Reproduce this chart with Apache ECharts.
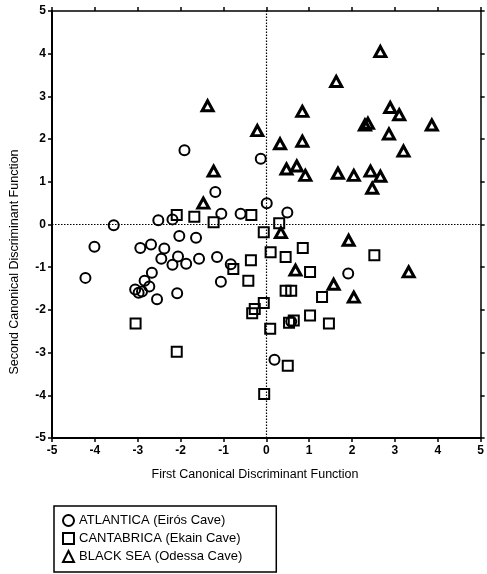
<!DOCTYPE html>
<html>
<head>
<meta charset="utf-8">
<script src="https://cdn.jsdelivr.net/npm/echarts@6/dist/echarts.min.js"></script>
<style>
html,body{margin:0;padding:0;background:#fff;}
#chart{width:487px;height:574px;}
</style>
</head>
<body>
<div id="chart"></div>
<script>
const seriesNames = ['ATLANTICA (Eirós Cave)', 'CANTABRICA (Ekain Cave)', 'BLACK SEA (Odessa Cave)'];
const xTicks = [-5, -4, -3, -2, -1, 0, 1, 2, 3, 4, 5];
const yTicks = [-5, -4, -3, -2, -1, 0, 1, 2, 3, 4, 5];
const xTitle = 'First Canonical Discriminant Function';
const yTitle = 'Second Canonical Discriminant Function';

const atlantica = [
  [-1.91, 1.74], [-0.13, 1.54], [-1.19, 0.76], [0.01, 0.50], [0.49, 0.28],
  [-2.52, 0.10], [-2.19, 0.12], [-1.05, 0.25], [-0.60, 0.25], [-3.56, -0.02],
  [-4.01, -0.52], [-4.22, -1.25], [-2.94, -0.55], [-2.69, -0.47], [-2.38, -0.56],
  [-2.03, -0.27], [-1.64, -0.31], [-2.45, -0.80], [-2.06, -0.75], [-1.57, -0.80],
  [-1.15, -0.76], [-2.19, -0.94], [-1.87, -0.92], [-0.83, -0.93], [-2.67, -1.13],
  [-2.84, -1.32], [-2.73, -1.45], [-3.06, -1.52], [-2.98, -1.60], [-2.90, -1.57],
  [-2.55, -1.75], [-2.08, -1.61], [-1.06, -1.34], [1.91, -1.15], [0.19, -3.17],
  [0.58, -2.27]
];
const cantabrica = [
  [-2.09, 0.22], [-1.68, 0.18], [-1.23, 0.05], [-0.35, 0.22], [0.30, 0.03],
  [-0.06, -0.18], [0.10, -0.65], [0.45, -0.76], [0.85, -0.55], [-0.36, -0.84],
  [-0.77, -1.04], [-0.42, -1.32], [2.52, -0.72], [1.02, -1.11], [0.45, -1.55],
  [0.58, -1.55], [1.30, -1.70], [-0.06, -1.84], [-0.27, -1.98], [-0.33, -2.08],
  [0.09, -2.44], [0.53, -2.30], [0.64, -2.25], [1.02, -2.13], [1.46, -2.32],
  [-3.05, -2.32], [-2.09, -2.98], [0.50, -3.31], [-0.05, -3.97]
];
const blackSea = [
  [2.66, 4.05], [1.63, 3.35], [-1.37, 2.78], [0.84, 2.65], [2.89, 2.74],
  [3.10, 2.57], [2.30, 2.33], [2.37, 2.37], [3.86, 2.33], [-0.21, 2.20],
  [2.86, 2.12], [0.32, 1.89], [0.84, 1.95], [3.20, 1.72], [0.47, 1.30],
  [0.71, 1.37], [0.91, 1.15], [1.67, 1.20], [2.04, 1.15], [2.43, 1.25],
  [2.66, 1.13], [2.47, 0.85], [-1.23, 1.25], [-1.47, 0.50], [0.34, -0.19],
  [1.92, -0.37], [0.68, -1.07], [3.32, -1.11], [1.57, -1.40], [2.04, -1.70]
];

const chart = echarts.init(document.getElementById('chart'), null, {renderer: 'canvas'});
const FONT = '"Liberation Sans", Arial, Helvetica, sans-serif';
const tickLabel = {color: '#000', fontFamily: FONT, fontWeight: 'bold', fontSize: 12};
function baseAxis(extra) {
  return Object.assign({
    type: 'value', min: xTicks[0], max: xTicks[xTicks.length - 1], interval: 1,
    axisLine: {show: true, onZero: false, lineStyle: {color: '#000', width: 2}},
    axisTick: {show: true, inside: false, length: 4, lineStyle: {color: '#000', width: 1.5}},
    splitLine: {show: false}
  }, extra);
}
chart.setOption({
  backgroundColor: '#fff',
  animation: false,
  grid: {left: 52, right: 5, top: 11, bottom: 136, containLabel: false},
  xAxis: [
    baseAxis({position: 'bottom', axisLabel: Object.assign({margin: 7, formatter: v => String(v)}, tickLabel)}),
    baseAxis({position: 'top', axisLabel: {show: false}, axisLine: {show: true, onZero: false, lineStyle: {color: '#000', width: 1.5}}})
  ],
  yAxis: [
    baseAxis({position: 'left', min: yTicks[0], max: yTicks[yTicks.length - 1], axisLabel: Object.assign({margin: 6}, tickLabel)}),
    baseAxis({position: 'right', min: yTicks[0], max: yTicks[yTicks.length - 1], axisLabel: {show: false}, axisLine: {show: true, onZero: false, lineStyle: {color: '#000', width: 1.5}}})
  ],
  legend: {
    orient: 'vertical', left: 54, top: 506,
    padding: [8, 34, 9, 8], itemGap: 5, itemWidth: 11, itemHeight: 11,
    borderColor: '#000', borderWidth: 1.5, backgroundColor: '#fff',
    textStyle: {color: '#000', fontFamily: FONT, fontSize: 13},
    data: seriesNames
  },
  graphic: [
    {type: 'text', x: 255, y: 475, style: {text: xTitle, fill: '#000', font: '12.5px ' + FONT, align: 'center', verticalAlign: 'middle'}},
    {type: 'text', x: 15, y: 262, rotation: Math.PI / 2, style: {text: yTitle, fill: '#000', font: '12.5px ' + FONT, align: 'center', verticalAlign: 'middle'}}
  ],
  series: [
    {
      name: seriesNames[0], type: 'scatter', data: atlantica, symbol: 'circle', symbolSize: 10,
      itemStyle: {color: 'rgba(255,255,255,0)', borderColor: '#000', borderWidth: 2, opacity: 1},
      markLine: {
        silent: true, symbol: 'none', label: {show: false},
        lineStyle: {color: '#000', type: [1.5, 1.5], width: 1.2},
        data: [{xAxis: 0}, {yAxis: 0}]
      }
    },
    {
      name: seriesNames[1], type: 'scatter', data: cantabrica, symbol: 'rect', symbolSize: 10,
      itemStyle: {color: 'rgba(255,255,255,0)', borderColor: '#000', borderWidth: 2, opacity: 1}
    },
    {
      name: seriesNames[2], type: 'scatter', data: blackSea, symbol: 'triangle', symbolSize: [11, 10],
      itemStyle: {color: 'rgba(255,255,255,0)', borderColor: '#000', borderWidth: 3, opacity: 1}
    }
  ]
});
</script>
</body>
</html>
